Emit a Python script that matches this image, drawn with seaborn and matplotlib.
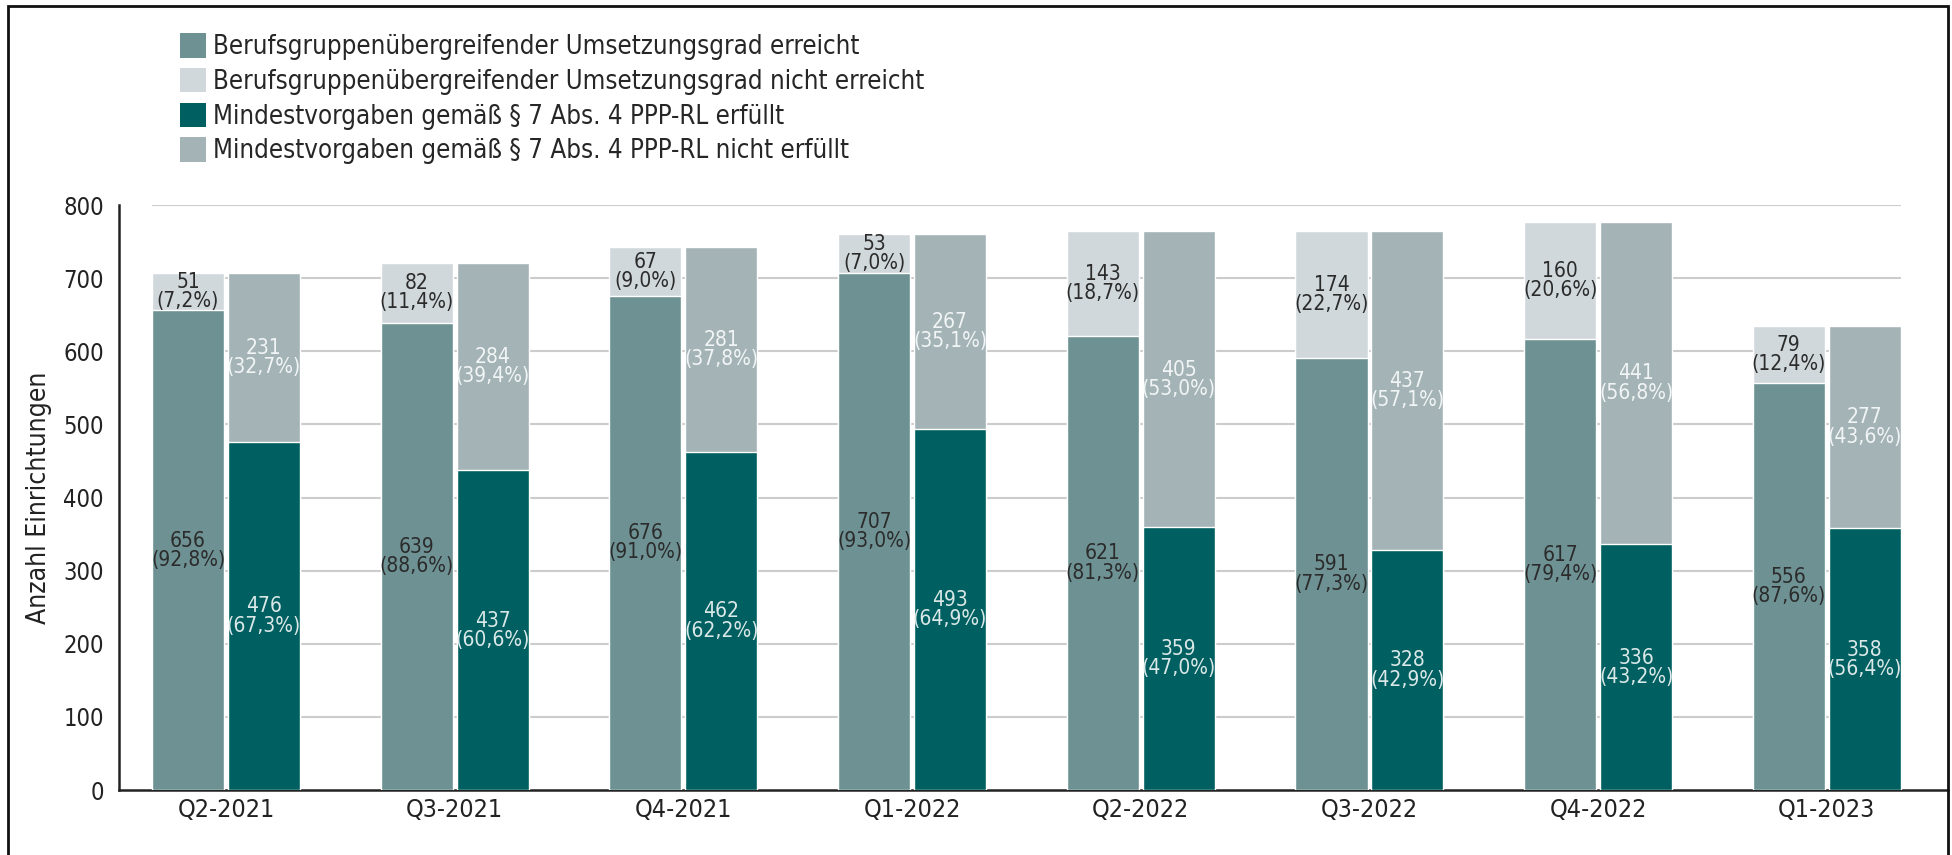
import matplotlib
matplotlib.use('Agg')
import matplotlib.pyplot as plt
from matplotlib.patches import Patch, Rectangle
import seaborn as sns
import pandas as pd

quarters = ['Q2-2021', 'Q3-2021', 'Q4-2021', 'Q1-2022',
            'Q2-2022', 'Q3-2022', 'Q4-2022', 'Q1-2023']
umsetzung_erreicht = [656, 639, 676, 707, 621, 591, 617, 556]
umsetzung_nicht = [51, 82, 67, 53, 143, 174, 160, 79]
mindest_erfuellt = [476, 437, 462, 493, 359, 328, 336, 358]
mindest_nicht = [231, 284, 281, 267, 405, 437, 441, 277]

labels = ['Berufsgruppenübergreifender Umsetzungsgrad erreicht',
          'Berufsgruppenübergreifender Umsetzungsgrad nicht erreicht',
          'Mindestvorgaben gemäß § 7 Abs. 4 PPP-RL erfüllt',
          'Mindestvorgaben gemäß § 7 Abs. 4 PPP-RL nicht erfüllt']
colors = ['#6e9294', '#d0d8db', '#005f60', '#a3b3b6']

sns.set_style('white')
plt.rcParams['font.family'] = ['DejaVu Sans']
plt.rcParams['font.stretch'] = 'condensed'

rows = []
for i, q in enumerate(quarters):
    rows.append({'quarter': q, 'group': 'U', 'total': umsetzung_erreicht[i] + umsetzung_nicht[i],
                 'base': umsetzung_erreicht[i]})
    rows.append({'quarter': q, 'group': 'M', 'total': mindest_erfuellt[i] + mindest_nicht[i],
                 'base': mindest_erfuellt[i]})
df = pd.DataFrame(rows)

fig = plt.figure(figsize=(19.52, 8.55), dpi=100)
ax = fig.add_axes([119 / 1952, 1 - 790 / 855, (1948 - 119) / 1952, (790 - 205) / 855])

sns.barplot(data=df, x='quarter', y='total', hue='group', hue_order=['U', 'M'],
            palette=[colors[1], colors[3]], width=0.664, gap=0.05, ax=ax,
            legend=False, saturation=1, zorder=2)
sns.barplot(data=df, x='quarter', y='base', hue='group', hue_order=['U', 'M'],
            palette=[colors[0], colors[2]], width=0.664, gap=0.05, ax=ax,
            legend=False, saturation=1, zorder=3)

def pct(v, t):
    return ('%.1f' % (100.0 * v / t)).replace('.', ',')

text_dark = '#2b2b2b'
# containers: 0 = U total, 1 = M total, 2 = U base, 3 = M base
series = [
    (ax.containers[2], [0] * 8, umsetzung_erreicht, umsetzung_erreicht, umsetzung_nicht, text_dark),
    (ax.containers[0], umsetzung_erreicht, umsetzung_nicht, umsetzung_erreicht, umsetzung_nicht, text_dark),
    (ax.containers[3], [0] * 8, mindest_erfuellt, mindest_erfuellt, mindest_nicht, '#dbe8e8'),
    (ax.containers[1], mindest_erfuellt, mindest_nicht, mindest_erfuellt, mindest_nicht, '#f2f5f5'),
]
for cont, bottoms, vals, a, b, tc in series:
    for j, bar in enumerate(cont.patches):
        x = bar.get_x() + bar.get_width() / 2
        y = bottoms[j] + vals[j] / 2
        ax.text(x, y, '%d\n(%s%%)' % (vals[j], pct(vals[j], a[j] + b[j])),
                ha='center', va='center', fontsize=15, color=tc,
                linespacing=0.95, zorder=5)

ax.set_ylim(0, 800)
ax.set_xlim(-0.468, 7.53)
ax.hlines(range(100, 801, 100), -0.325, 7.325, color='#cccccc', lw=1.5, zorder=1)
ax.set_yticks(range(0, 801, 100))
ax.tick_params(axis='y', length=8, width=1.5, labelsize=17, colors='#222222', pad=3)
ax.tick_params(axis='x', length=0, labelsize=18, colors='#222222', pad=6)
ax.set_xlabel('')
ax.set_ylabel('Anzahl Einrichtungen', fontsize=19, color='#222222', labelpad=8)
sns.despine(ax=ax, top=True, right=True)
for s in ['left', 'bottom']:
    ax.spines[s].set_linewidth(1.8)
    ax.spines[s].set_color('#222222')

handles = [Patch(facecolor=c, edgecolor='none') for c in colors]
fig.legend(handles, labels, loc='upper left', bbox_to_anchor=(180 / 1952, 1 - 33 / 855),
           frameon=False, fontsize=18.5, handlelength=1.0, handleheight=1.1,
           handletextpad=0.3, labelspacing=0.3, borderpad=0, borderaxespad=0)

fig.patches.append(Rectangle((8 / 1952, -0.02), 1940 / 1952, 1.02 - 6 / 855,
                             transform=fig.transFigure, fill=False,
                             edgecolor='#111111', lw=2))

fig.savefig('out.png', dpi=100)
